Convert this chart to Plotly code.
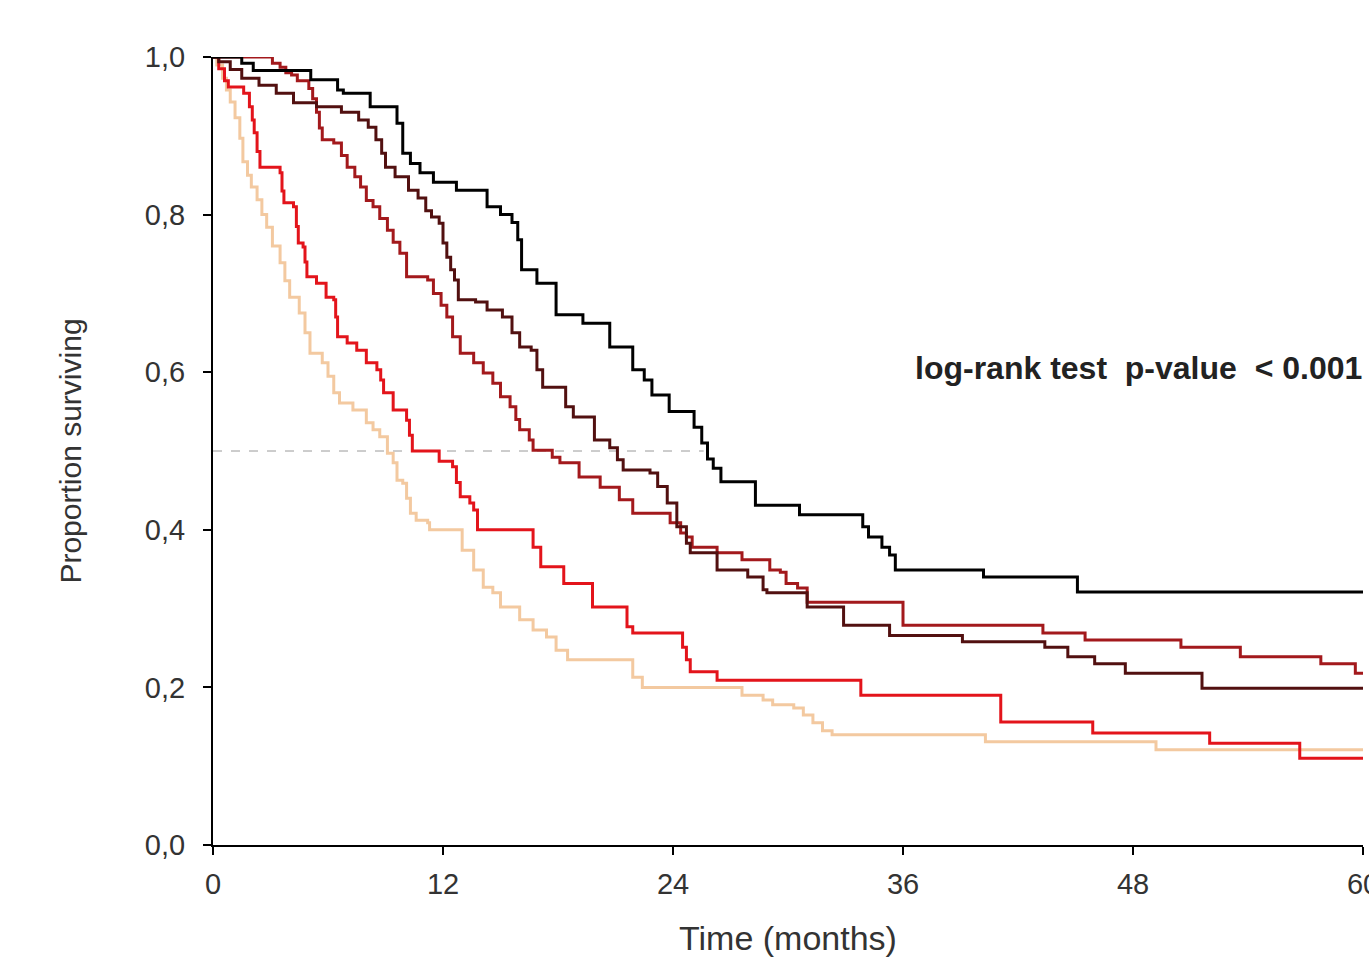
import plotly.graph_objects as go

# ---- data (time in months, proportion surviving) ----
t_black = [0, 1.5, 2.1, 5.1, 6.5, 6.8, 8.2, 9.6, 9.9, 10.3, 10.8, 11.5, 12.7, 14.3, 15.0, 15.6, 15.9, 16.1,
           16.9, 17.9, 19.3, 20.7, 21.9, 22.5, 22.9, 23.8, 25.1, 25.5, 25.8, 26.1, 26.5, 28.3, 30.6, 33.9,
           34.2, 34.9, 35.3, 35.6, 40.2, 45.1, 60]
s_black = [1.0, 0.992, 0.983, 0.971, 0.958, 0.954, 0.937, 0.916, 0.878, 0.865, 0.853, 0.841, 0.831, 0.81,
           0.80, 0.79, 0.768, 0.73, 0.713, 0.673, 0.662, 0.632, 0.603, 0.59, 0.571, 0.55, 0.53, 0.51, 0.49,
           0.478, 0.461, 0.431, 0.419, 0.404, 0.391, 0.378, 0.368, 0.349, 0.34, 0.321, 0.321]

t_maroon = [0, 0.3, 0.9, 1.5, 2.4, 3.3, 4.2, 5.4, 6.7, 7.6, 8.1, 8.5, 8.8, 9.0, 9.5, 10.2, 10.7, 11.1, 11.4,
            11.8, 12.0, 12.2, 12.4, 12.6, 12.8, 13.7, 14.3, 15.1, 15.6, 16.0, 16.6, 16.9, 17.2, 18.4, 18.8,
            19.9, 20.7, 21.1, 21.4, 22.8, 23.2, 23.7, 24.2, 24.7, 24.9, 26.3, 27.9, 28.7, 28.9, 31.0, 32.9,
            35.3, 39.1, 43.4, 44.6, 46.0, 47.6, 51.6, 60]
s_maroon = [1.0, 0.994, 0.984, 0.973, 0.964, 0.954, 0.942, 0.937, 0.930, 0.920, 0.911, 0.895, 0.878, 0.860,
            0.848, 0.831, 0.821, 0.805, 0.797, 0.789, 0.764, 0.746, 0.730, 0.717, 0.692, 0.689, 0.679, 0.670,
            0.650, 0.632, 0.628, 0.603, 0.581, 0.556, 0.543, 0.514, 0.504, 0.489, 0.476, 0.472, 0.455, 0.434,
            0.404, 0.383, 0.371, 0.349, 0.340, 0.324, 0.320, 0.302, 0.279, 0.266, 0.258, 0.251, 0.239, 0.230,
            0.218, 0.199, 0.199]

t_brick = [0, 3.1, 3.5, 3.8, 4.1, 4.4, 5.0, 5.2, 5.4, 5.55, 5.7, 6.3, 6.7, 7.0, 7.4, 7.7, 8.0, 8.35, 8.7, 9.1,
           9.4, 9.75, 10.1, 11.2, 11.5, 11.9, 12.2, 12.5, 12.9, 13.6, 14.1, 14.6, 15.0, 15.5, 15.8, 16.0, 16.5,
           16.7, 17.7, 18.1, 19.1, 20.2, 21.2, 21.9, 23.85, 24.4, 24.7, 25.0, 26.3, 27.6, 29.05, 29.6, 29.9,
           30.5, 31.0, 36.0, 43.3, 45.5, 50.5, 53.6, 57.8, 59.6, 60]
s_brick = [1.0, 0.992, 0.987, 0.980, 0.977, 0.970, 0.960, 0.947, 0.930, 0.910, 0.895, 0.891, 0.875, 0.860,
           0.848, 0.835, 0.818, 0.810, 0.795, 0.780, 0.765, 0.751, 0.721, 0.717, 0.700, 0.685, 0.670, 0.645,
           0.624, 0.612, 0.599, 0.586, 0.569, 0.556, 0.540, 0.527, 0.514, 0.501, 0.492, 0.485, 0.467, 0.454,
           0.438, 0.421, 0.409, 0.396, 0.391, 0.378, 0.371, 0.362, 0.349, 0.346, 0.332, 0.326, 0.308, 0.279,
           0.269, 0.260, 0.251, 0.239, 0.230, 0.218, 0.218]

t_red = [0, 0.3, 0.6, 0.8, 1.6, 1.9, 2.05, 2.15, 2.3, 2.45, 3.5, 3.6, 3.7, 4.2, 4.35, 4.45, 4.7, 4.8, 4.9, 5.4,
         5.9, 6.3, 6.4, 6.5, 7.0, 7.5, 8.0, 8.55, 8.75, 8.9, 9.4, 10.1, 10.25, 10.4, 11.8, 12.5, 12.7, 12.9,
         13.4, 13.6, 13.8, 16.7, 17.1, 18.3, 19.8, 21.6, 21.9, 24.5, 24.7, 24.9, 26.3, 33.8, 41.1, 45.9, 52.0,
         56.7, 60]
s_red = [1.0, 0.985, 0.970, 0.962, 0.954, 0.937, 0.920, 0.904, 0.880, 0.860, 0.853, 0.830, 0.815, 0.810,
         0.785, 0.764, 0.759, 0.740, 0.721, 0.713, 0.695, 0.692, 0.670, 0.645, 0.637, 0.628, 0.612, 0.603,
         0.590, 0.574, 0.552, 0.539, 0.520, 0.500, 0.487, 0.480, 0.460, 0.442, 0.434, 0.425, 0.400, 0.378,
         0.353, 0.332, 0.302, 0.277, 0.269, 0.251, 0.235, 0.220, 0.209, 0.190, 0.156, 0.142, 0.129, 0.110,
         0.110]

t_peach = [0, 0.2, 0.5, 0.7, 0.9, 1.15, 1.4, 1.56, 1.8, 2.0, 2.3, 2.55, 2.8, 3.1, 3.5, 3.75, 4.0, 4.5, 4.8,
           5.06, 5.7, 6.0, 6.3, 6.6, 7.3, 8.0, 8.35, 8.7, 9.1, 9.4, 9.6, 9.9, 10.1, 10.3, 10.6, 11.2, 11.3,
           13.0, 13.6, 14.1, 14.6, 15.0, 16.0, 16.7, 17.4, 17.9, 18.5, 21.9, 22.4, 27.6, 28.7, 29.2, 30.3,
           30.8, 31.3, 31.8, 32.3, 40.3, 49.2, 60]
s_peach = [1.0, 0.990, 0.973, 0.958, 0.943, 0.923, 0.897, 0.867, 0.850, 0.835, 0.819, 0.800, 0.784, 0.760,
           0.739, 0.716, 0.695, 0.675, 0.650, 0.624, 0.612, 0.595, 0.574, 0.561, 0.552, 0.536, 0.527, 0.518,
           0.497, 0.485, 0.463, 0.459, 0.440, 0.421, 0.412, 0.409, 0.400, 0.374, 0.349, 0.327, 0.320, 0.302,
           0.286, 0.273, 0.264, 0.247, 0.235, 0.213, 0.200, 0.190, 0.184, 0.178, 0.174, 0.165, 0.155, 0.145,
           0.140, 0.131, 0.121, 0.121]

median_x = [0, 25.6]
median_y = [0.5, 0.5]

x_ticks = [0, 12, 24, 36, 48, 60]
y_ticks = [0.0, 0.2, 0.4, 0.6, 0.8, 1.0]

series = [
    (t_peach, s_peach, "#f3c9a0", 3),
    (t_red, s_red, "#e3141b", 3),
    (t_brick, s_brick, "#a3191c", 3),
    (t_maroon, s_maroon, "#521010", 3),
    (t_black, s_black, "#000000", 3),
]

fig = go.Figure()
fig.add_trace(go.Scatter(x=median_x, y=median_y, mode="lines",
                         line=dict(color="#9a9a9a", width=1, dash="dash"),
                         showlegend=False, hoverinfo="skip"))
for tx, sy, col, w in series:
    fig.add_trace(go.Scatter(x=tx, y=sy, mode="lines", line=dict(color=col, width=w, shape="hv"),
                             showlegend=False, cliponaxis=False))

font_fam = "Liberation Sans, Arial, sans-serif"
fig.update_layout(
    width=1369, height=957,
    margin=dict(l=213, r=6, t=57, b=112),
    paper_bgcolor="white", plot_bgcolor="white",
    separators=",.",
    font=dict(family=font_fam, color="#333333"),
    xaxis=dict(range=[0, 60], tickvals=x_ticks, showgrid=False, zeroline=False, automargin=False,
               showline=True, linecolor="black", linewidth=2,
               ticks="outside", ticklen=8, tickwidth=2, tickcolor="black",
               tickfont=dict(size=29, color="#333333"), ticklabelstandoff=4,
               ticklabeloverflow="allow",
               title=dict(text="Time (months)", font=dict(size=34, color="#333333"), standoff=30)),
    yaxis=dict(range=[0, 1], tickvals=y_ticks, tickformat=".1f", showgrid=False, zeroline=False,
               automargin=False,
               showline=True, linecolor="black", linewidth=2,
               ticks="outside", ticklen=8, tickwidth=2, tickcolor="black",
               tickfont=dict(size=29, color="#333333"), ticklabelstandoff=12,
               title=dict(text="Proportion surviving", font=dict(size=30, color="#333333"), standoff=54)),
    annotations=[dict(x=36.5, y=0.605, xref="x", yref="y", xanchor="left", yanchor="middle",
                      text="<b>log-rank test\u00a0 p-value\u00a0 < 0.001</b>", showarrow=False,
                      font=dict(size=32, color="#222222", family=font_fam))],
)

page_fix = ("document.documentElement.style.overflow='hidden';"
            "document.body.style.overflow='hidden';"
            "document.body.style.margin='0';")

fig.write_html("out.html", config={"responsive": False, "displayModeBar": False}, post_script=page_fix)
